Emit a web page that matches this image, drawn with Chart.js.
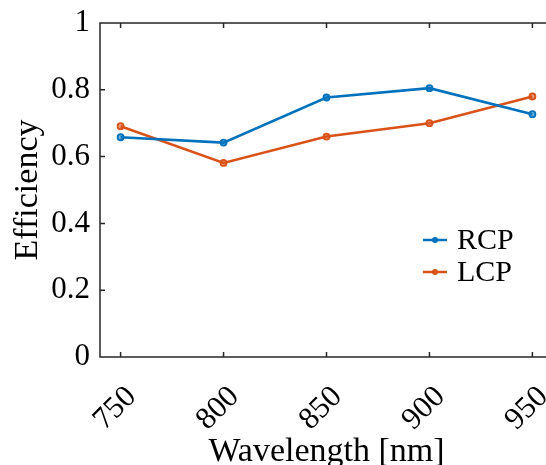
<!DOCTYPE html>
<html>
<head>
<meta charset="utf-8">
<script src="https://cdn.jsdelivr.net/npm/chart.js@4"></script>
<style>
    html, body { margin: 0; padding: 0; background: #fff; overflow: hidden; }
    #wrap { position: relative; width: 560px; height: 465px; }
</style>
</head>
<body>
<div id="wrap"><canvas id="effChart" width="560" height="465"></canvas></div>
<script>
    /*** DATA ***/
    const wavelengths = [750, 800, 850, 900, 950];
    const rcpValues = [0.658, 0.642, 0.777, 0.805, 0.727];
    const lcpValues = [0.691, 0.581, 0.660, 0.700, 0.780];
    const yTicks = [0, 0.2, 0.4, 0.6, 0.8, 1];
    const seriesNames = ["RCP", "LCP"];

    const FONT = "'Liberation Serif', 'Times New Roman', serif";
    const AXIS = "#262626";

    /* -------------------------------------------------------------
       BOX + INWARD TICKS (MATLAB STYLE)
    -------------------------------------------------------------- */
    const boxTicks = {
        id: "boxTicks",
        afterDatasetsDraw(chart) {
            const { ctx, chartArea: a, scales: { x, y } } = chart;
            ctx.save();
            ctx.strokeStyle = AXIS;
            ctx.lineWidth = 1.5;
            ctx.beginPath();
            ctx.moveTo(a.right, a.top);
            ctx.lineTo(a.left, a.top);
            ctx.lineTo(a.left, a.bottom);
            ctx.lineTo(a.right, a.bottom);
            wavelengths.forEach(w => {
                const px = x.getPixelForValue(w);
                ctx.moveTo(px, a.bottom);
                ctx.lineTo(px, a.bottom - 5);
                ctx.moveTo(px, a.top);
                ctx.lineTo(px, a.top + 5);
            });
            yTicks.forEach(t => {
                const py = y.getPixelForValue(t);
                ctx.moveTo(a.left, py);
                ctx.lineTo(a.left + 5, py);
            });
            ctx.stroke();
            ctx.restore();
        }
    };

    /* -------------------------------------------------------------
       LEGEND INSIDE AXES
    -------------------------------------------------------------- */
    const innerLegend = {
        id: "innerLegend",
        afterDraw(chart) {
            const { ctx } = chart;
            ctx.save();
            chart.data.datasets.forEach((ds, i) => {
                const yy = 240 + i * 32;
                ctx.strokeStyle = ds.borderColor;
                ctx.fillStyle = ds.borderColor;
                ctx.lineWidth = 2.5;
                ctx.beginPath();
                ctx.moveTo(423, yy);
                ctx.lineTo(447, yy);
                ctx.stroke();
                ctx.beginPath();
                ctx.arc(435, yy, 3, 0, Math.PI * 2);
                ctx.fill();
                ctx.fillStyle = "#000";
                ctx.font = "30px " + FONT;
                ctx.textBaseline = "alphabetic";
                ctx.textAlign = "left";
                ctx.fillText(ds.label, 457, yy + 9);
            });
            ctx.restore();
        }
    };

    const makeSeries = (label, values, color, fill) => ({
        label,
        data: wavelengths.map((w, i) => ({ x: w, y: values[i] })),
        borderColor: color,
        backgroundColor: color,
        borderWidth: 2.6,
        pointRadius: 3,
        pointBorderWidth: 1.8,
        pointBackgroundColor: fill,
        tension: 0
    });

    new Chart(document.getElementById("effChart").getContext("2d"), {
        type: "line",
        data: {
            datasets: [
                makeSeries(seriesNames[0], rcpValues, "#0072BD", "rgba(0,114,189,0.55)"),
                makeSeries(seriesNames[1], lcpValues, "#D95319", "rgba(217,83,25,0.55)")
            ]
        },
        options: {
            responsive: false,
            animation: false,
            layout: { padding: { top: 23, right: 7, left: 0, bottom: 0 } },
            plugins: {
                legend: { display: false },
                tooltip: { enabled: false }
            },
            scales: {
                x: {
                    type: "linear",
                    min: 740,
                    max: 960,
                    afterFit: s => {
                        s.height = 108;
                        s.paddingLeft = 0;
                        s.paddingRight = 0;
                    },
                    afterBuildTicks: s => { s.ticks = wavelengths.map(v => ({ value: v })); },
                    grid: { display: false, drawTicks: false },
                    border: { display: false },
                    ticks: {
                        minRotation: 45,
                        maxRotation: 45,
                        padding: 22,
                        labelOffset: 11,
                        color: "#000",
                        font: { family: FONT, size: 31 }
                    },
                    title: {
                        display: true,
                        text: "Wavelength [nm]",
                        color: "#000",
                        padding: { top: 0, bottom: -4 },
                        font: { family: FONT, size: 34, lineHeight: 1 }
                    }
                },
                y: {
                    min: 0,
                    max: 1,
                    afterFit: s => {
                        s.width = 100;
                        s.paddingTop = 0;
                        s.paddingBottom = 0;
                    },
                    afterBuildTicks: s => { s.ticks = yTicks.map(v => ({ value: v })); },
                    grid: { display: false, drawTicks: false },
                    border: { display: false },
                    ticks: {
                        padding: 10,
                        color: "#000",
                        font: { family: FONT, size: 31 },
                        callback: v => String(v)
                    },
                    title: {
                        display: true,
                        text: "Efficiency",
                        color: "#000",
                        padding: { top: 8, bottom: 0 },
                        font: { family: FONT, size: 34 }
                    }
                }
            }
        },
        plugins: [boxTicks, innerLegend]
    });
</script>
</body>
</html>
